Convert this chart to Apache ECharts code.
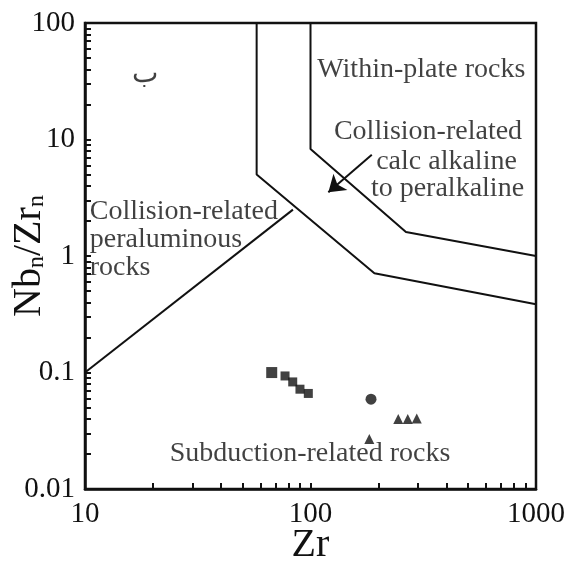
<!DOCTYPE html>
<html>
<head>
<meta charset="utf-8">
<script src="https://cdn.jsdelivr.net/npm/echarts@6/dist/echarts.min.js"></script>
<style>html,body{margin:0;padding:0;background:#fff}#c{width:569px;height:562px}</style>
</head>
<body>
<div id="c"></div>
<script>
// Field boundaries [Zr, Nbn/Zrn]
const boundaryA = [[57.7, 100], [57.7, 5.0], [192, 0.71], [1000, 0.385]];
const boundaryB = [[100, 100], [100, 8.3], [265, 1.61], [1000, 1.0]];
const boundaryC = [[10, 0.1], [83.6, 2.5]];
const arrowLine = [[187, 7.4], [120, 3.52]];

// Samples
const squares = [[67.3, 0.0999], [77.1, 0.0934], [83.4, 0.083], [89.8, 0.0719], [97.8, 0.0661]];
const circles = [[185.5, 0.059]];
const triangles = [[245, 0.0398], [270, 0.0398], [296, 0.0403], [182.3, 0.0268]];

// Tick values
const xTicks = [10,20,30,40,50,60,70,80,90,100,200,300,400,500,600,700,800,900,1000];
const xLabels = [10, 100, 1000];
const yTicks = [0.01,0.02,0.03,0.04,0.05,0.06,0.07,0.08,0.09,0.1,0.2,0.3,0.4,0.5,0.6,0.7,0.8,0.9,1,2,3,4,5,6,7,8,9,10,20,30,40,50,60,70,80,90,100];
const yLabels = [0.01, 0.1, 1, 10, 100];

// Annotations [x, y, text, align]
const annotations = [
  [310, 39.6, 'Within-plate rocks', 'center'],
  [332, 11.6, 'Collision-related', 'center'],
  [401, 6.45, 'calc alkaline', 'center'],
  [405, 3.79, 'to peralkaline', 'center'],
  [10.5, 2.40, 'Collision-related', 'left'],
  [10.5, 1.38, 'peraluminous', 'left'],
  [10.5, 0.797, 'rocks', 'left'],
  [99.5, 0.020, 'Subduction-related rocks', 'center'],
  [18.5, 35.9, 'ب', 'center']
];

const FONT = 'Liberation Serif';
const INK = '#111';
const chart = echarts.init(document.getElementById('c'), null, {renderer: 'canvas'});

const lineSeries = (data) => ({
  type: 'line', data, symbol: 'none', silent: true,
  lineStyle: {color: INK, width: 2}, z: 3
});

chart.setOption({
  animation: false,
  backgroundColor: '#fff',
  grid: {left: 85, right: 33, top: 23, bottom: 73, containLabel: false, outerBoundsMode: 'none',
    show: true, borderColor: INK, borderWidth: 2.5, backgroundColor: 'transparent'},
  xAxis: {
    type: 'log', min: 10, max: 1000, logBase: 10,
    name: 'Zr', nameLocation: 'middle', nameGap: 36, nameMoveOverlap: false,
    nameTextStyle: {fontFamily: FONT, fontSize: 40, color: INK, verticalAlign: 'top'},
    axisLine: {show: true, onZero: false, lineStyle: {color: INK, width: 2.5}},
    axisTick: {show: true, inside: true, length: 6, customValues: xTicks, lineStyle: {color: INK, width: 2}},
    axisLabel: {customValues: xLabels, fontFamily: FONT, fontSize: 29, color: INK, margin: 11,
      formatter: v => String(v)},
    splitLine: {show: false}, minorTick: {show: false}
  },
  yAxis: {
    type: 'log', min: 0.01, max: 100, logBase: 10,
    name: '{a|Nb}{s|n}{a|/Zr}{s|n}', nameLocation: 'middle', nameGap: 36, nameRotate: 90, nameMoveOverlap: false,
    nameTextStyle: {
      rich: {
        a: {fontFamily: FONT, fontSize: 40, color: INK, verticalAlign: 'bottom', lineHeight: 44},
        s: {fontFamily: FONT, fontSize: 24, color: INK, verticalAlign: 'bottom', lineHeight: 34}
      }
    },
    axisLine: {show: true, onZero: false, lineStyle: {color: INK, width: 2.5}},
    axisTick: {show: true, inside: true, length: 6, customValues: yTicks, lineStyle: {color: INK, width: 2}},
    axisLabel: {customValues: yLabels, fontFamily: FONT, fontSize: 29, color: INK, margin: 10,
      formatter: v => String(v)},
    splitLine: {show: false}, minorTick: {show: false}
  },
  series: [
    lineSeries(boundaryA),
    lineSeries(boundaryB),
    lineSeries(boundaryC),
    {
      type: 'lines', coordinateSystem: 'cartesian2d', silent: true, z: 4,
      symbol: ['none', 'arrow'], symbolSize: [0, 16],
      lineStyle: {color: INK, width: 2, opacity: 1},
      data: [{coords: arrowLine}]
    },
    {type: 'scatter', data: squares, symbol: 'rect', silent: true, z: 5,
      symbolSize: (v, p) => p.dataIndex === 0 ? 11 : 9, itemStyle: {color: INK}},
    {type: 'scatter', data: circles, symbol: 'circle', symbolSize: 11, silent: true, z: 5, itemStyle: {color: INK}},
    {type: 'scatter', data: triangles, symbol: 'triangle', symbolSize: 10, silent: true, z: 5, itemStyle: {color: INK}},
    {
      type: 'scatter', silent: true, z: 6, symbolSize: 0,
      data: annotations.map(a => ({value: [a[0], a[1]], name: a[2],
        label: {align: a[3]}})),
      label: {show: true, position: 'inside', formatter: p => p.name,
        fontFamily: FONT, fontSize: 28, color: INK, verticalAlign: 'middle'}
    }
  ]
});
</script>
</body>
</html>
